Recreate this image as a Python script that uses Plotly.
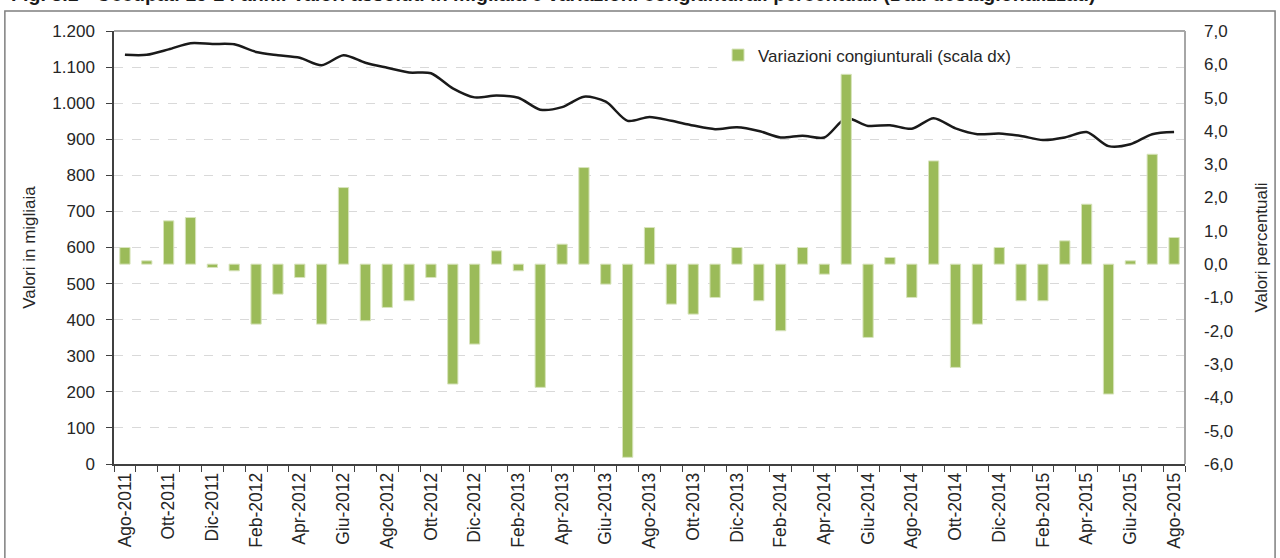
import plotly.graph_objects as go

months = ["Ago-2011", "Set-2011", "Ott-2011", "Nov-2011", "Dic-2011",
          "Gen-2012", "Feb-2012", "Mar-2012", "Apr-2012", "Mag-2012", "Giu-2012", "Lug-2012",
          "Ago-2012", "Set-2012", "Ott-2012", "Nov-2012", "Dic-2012",
          "Gen-2013", "Feb-2013", "Mar-2013", "Apr-2013", "Mag-2013", "Giu-2013", "Lug-2013",
          "Ago-2013", "Set-2013", "Ott-2013", "Nov-2013", "Dic-2013",
          "Gen-2014", "Feb-2014", "Mar-2014", "Apr-2014", "Mag-2014", "Giu-2014", "Lug-2014",
          "Ago-2014", "Set-2014", "Ott-2014", "Nov-2014", "Dic-2014",
          "Gen-2015", "Feb-2015", "Mar-2015", "Apr-2015", "Mag-2015", "Giu-2015", "Lug-2015",
          "Ago-2015"]

occupati = [1134, 1134, 1149, 1166, 1164, 1163, 1142, 1133, 1126, 1105, 1133, 1112,
            1098, 1085, 1083, 1041, 1016, 1021, 1015, 982, 989, 1018, 1004, 951,
            962, 951, 938, 928, 933, 923, 905, 910, 905, 958, 937, 939,
            929, 958, 930, 914, 916, 909, 898, 905, 920, 881, 886, 914, 920]

variazioni = [0.5, 0.1, 1.3, 1.4, -0.1, -0.2, -1.8, -0.9, -0.4, -1.8, 2.3, -1.7,
              -1.3, -1.1, -0.4, -3.6, -2.4, 0.4, -0.2, -3.7, 0.6, 2.9, -0.6, -5.8,
              1.1, -1.2, -1.5, -1.0, 0.5, -1.1, -2.0, 0.5, -0.3, 5.7, -2.2, 0.2,
              -1.0, 3.1, -3.1, -1.8, 0.5, -1.1, -1.1, 0.7, 1.8, -3.9, 0.1, 3.3, 0.8]

tick_labels = [m if i % 2 == 0 else "" for i, m in enumerate(months)]

right_tick_vals = [-6, -5, -4, -3, -2, -1, 0, 1, 2, 3, 4, 5, 6, 7]
right_tick_text = ["-6,0", "-5,0", "-4,0", "-3,0", "-2,0", "-1,0", "0,0",
                   "1,0", "2,0", "3,0", "4,0", "5,0", "6,0", "7,0"]

title_text = ("Fig. 3.1 - Occupati 15-24 anni. Valori assoluti in migliaia e variazioni "
              "congiunturali percentuali (Dati destagionalizzati)")

FONT = "Liberation Sans, Arial, sans-serif"

fig = go.Figure()

fig.add_trace(go.Bar(
    x=months, y=variazioni, yaxis="y2",
    name="Variazioni congiunturali (scala dx)",
    marker=dict(color="#9BBB59", line=dict(color="#d8e4bc", width=1)),
    width=0.47,
))

fig.add_trace(go.Scatter(
    x=months, y=occupati, yaxis="y",
    mode="lines", name="Occupati",
    line=dict(color="#1a1a1a", width=2.5, shape="spline", smoothing=0.8),
    showlegend=False,
))

fig.update_layout(
    width=1280, height=558,
    margin=dict(l=114, r=95, t=31, b=94, autoexpand=False),
    paper_bgcolor="white", plot_bgcolor="white",
    separators=",.",
    font=dict(family=FONT, size=17, color="#262626"),
    showlegend=True,
    legend=dict(x=0.564, y=0.985, xanchor="left", yanchor="top",
                bgcolor="white", font=dict(size=17, color="#262626"),
                itemwidth=30, tracegroupgap=0),
    xaxis=dict(
        type="category", automargin=False,
        tickmode="array", tickvals=months, ticktext=tick_labels,
        tickangle=-90, tickson="boundaries",
        ticks="outside", ticklen=6, tickcolor="#404040",
        showline=True, linecolor="#404040", linewidth=1.5,
        showgrid=False, tickfont=dict(size=17.5),
        range=[-0.5, len(months) - 0.5],
    ),
    yaxis=dict(
        range=[0, 1200], dtick=100, tickformat=",", automargin=False,
        showline=True, linecolor="#404040", linewidth=1.5,
        ticks="outside", ticklen=6, tickcolor="#404040",
        ticklabelstandoff=8,
        showgrid=True, gridcolor="#d9d9d9", griddash="dash", gridwidth=1,
        zeroline=False,
        title=dict(text="Valori in migliaia", standoff=12, font=dict(size=17)),
    ),
    yaxis2=dict(
        range=[-6, 7], tickmode="array", tickvals=right_tick_vals, ticktext=right_tick_text,
        overlaying="y", side="right", automargin=False,
        showline=False, showgrid=False, zeroline=False,
        ticks="", ticklabelstandoff=18,
        title=dict(text="Valori percentuali", standoff=22, font=dict(size=17)),
    ),
)

# plot-area border (top / right) and outer frame
fig.add_shape(type="line", xref="paper", yref="paper", x0=0, x1=1, y0=1, y1=1,
              line=dict(color="#a6a6a6", width=2), layer="above")
fig.add_shape(type="line", xref="paper", yref="paper", x0=1, x1=1, y0=0, y1=1,
              line=dict(color="#a6a6a6", width=2), layer="above")
fig.add_shape(type="rect", xref="paper", yref="paper",
              x0=-0.1019, x1=1.0841, y0=-0.3, y1=1.0462,
              line=dict(color="#7f7f7f", width=1.5), layer="above")

fig.add_annotation(text="<b>" + title_text + "</b>", xref="paper", yref="paper",
                   x=-0.0981, y=1.0554, xanchor="left", yanchor="bottom",
                   showarrow=False, font=dict(family=FONT, size=19.6, color="#1a1a1a"))

fig.write_html("out.html", config={"displayModeBar": False},
               post_script="document.body.style.margin='0px';document.body.style.overflow='hidden';")
